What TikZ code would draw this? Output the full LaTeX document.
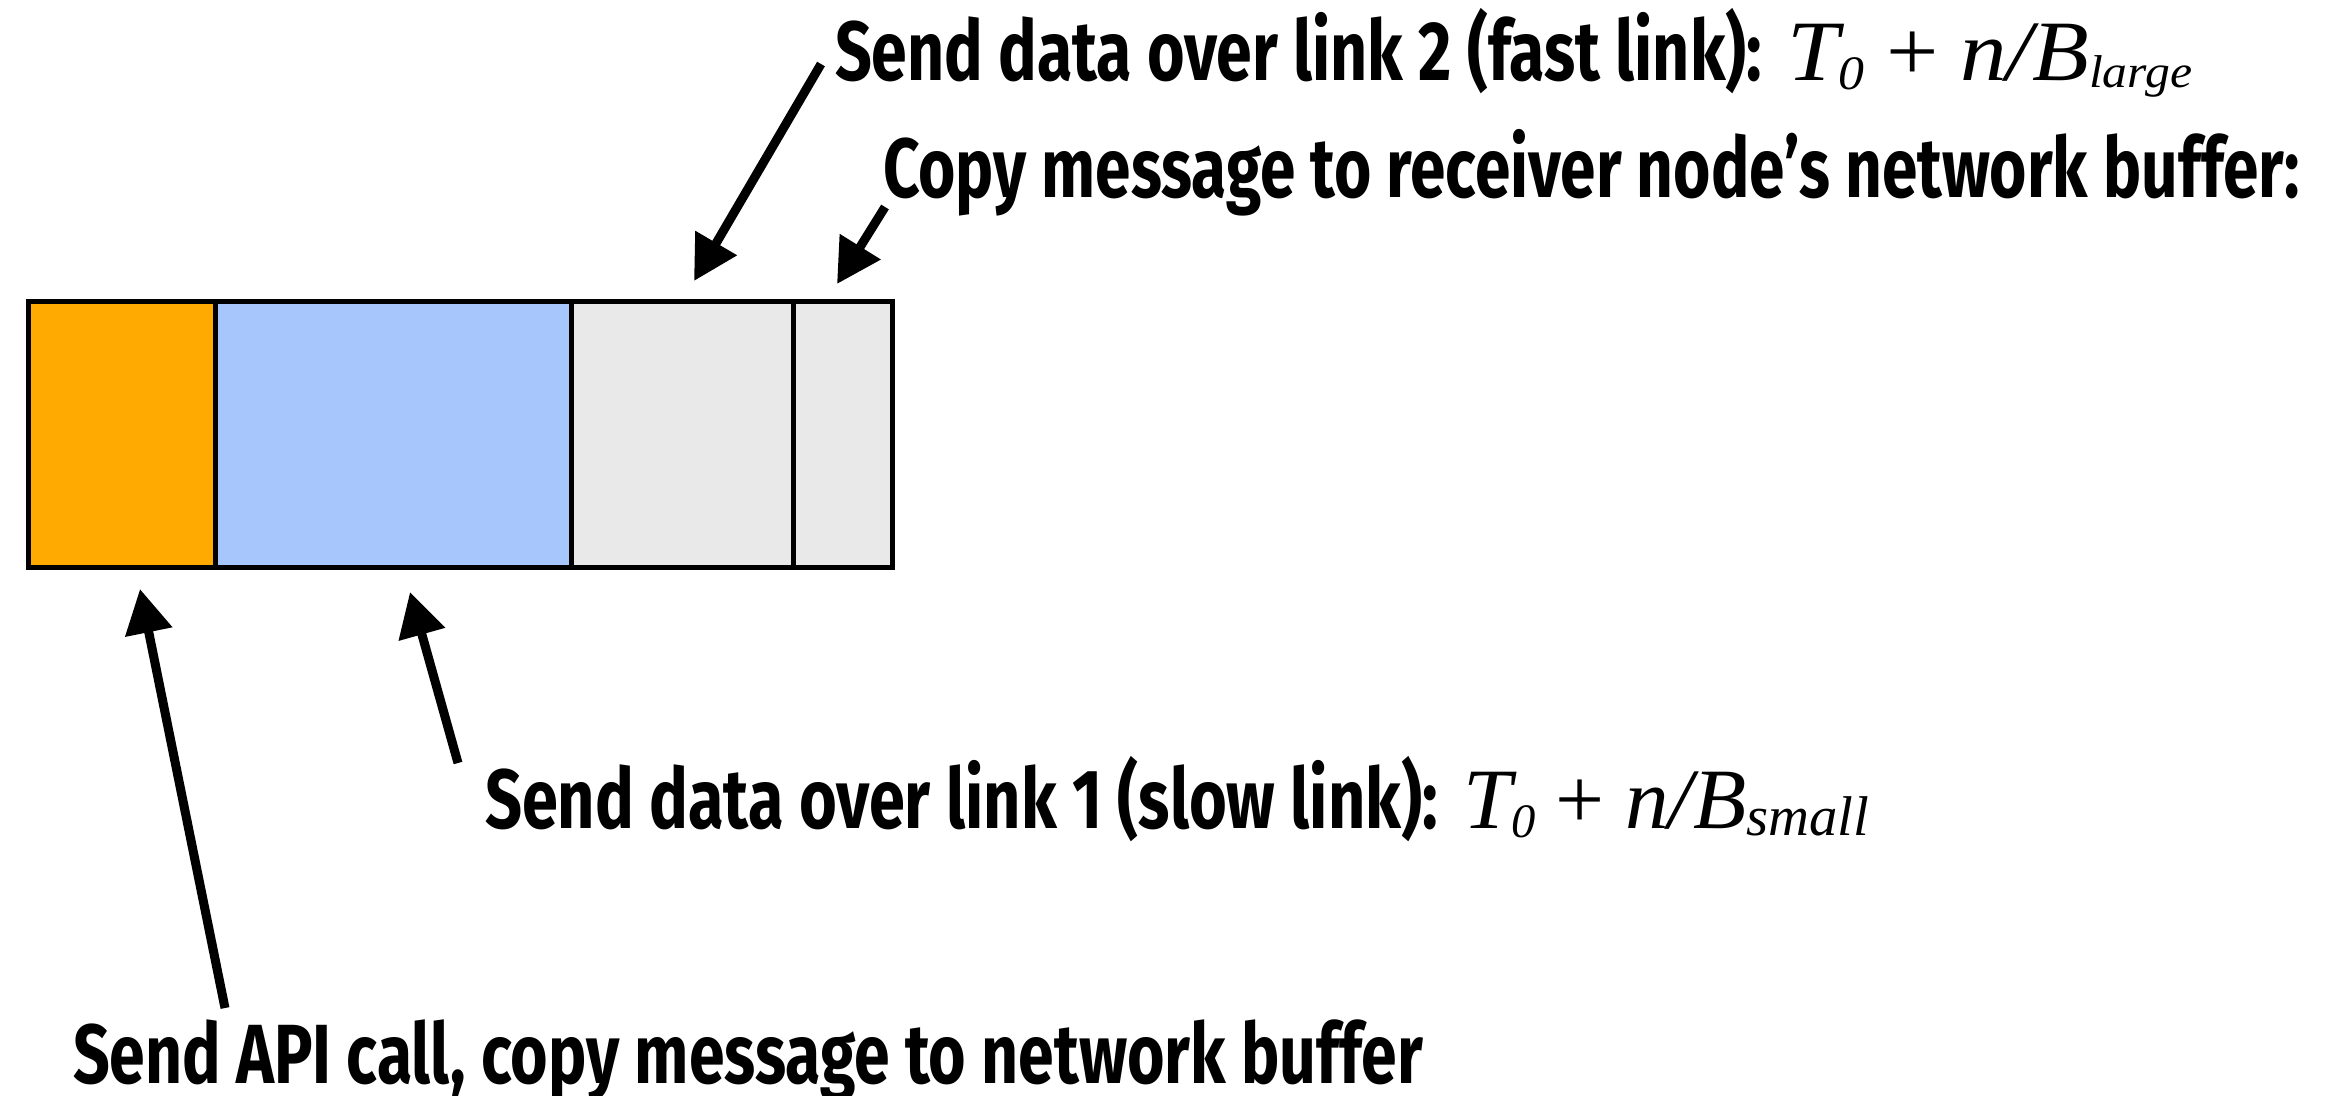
\documentclass[tikz,border=0pt]{standalone}
\usepackage{graphicx}
\usepackage{fontspec}
\setmainfont{Fira Sans}
\newfontfamily\tms{Liberation Serif}
\usetikzlibrary{arrows.meta}
\definecolor{segorange}{HTML}{FFAA00}
\definecolor{segblue}{HTML}{A7C6FB}
\definecolor{seggray}{HTML}{E9E9E9}
\newcommand{\boldlbl}[2]{\resizebox{#1pt}{\height}{\fontsize{84}{90}\selectfont\bfseries #2}}
\newcommand{\fmla}[3]{\resizebox{#1pt}{\height}{\tms\itshape\fontsize{86}{90}\selectfont T\raisebox{-9pt}{\fontsize{48}{50}\selectfont 0}\hspace{20pt}{\upshape +}\hspace{20pt}n/B\raisebox{-7pt}{\fontsize{#3}{50}\selectfont #2}}}
\tikzset{
  seg/.style={draw=black, line width=5pt, minimum height=266pt, inner sep=0pt, outer sep=0pt, anchor=north west},
  lbl/.style={anchor=base west, inner sep=0pt, outer sep=0pt},
  ptr/.style={-{Triangle[length=44pt,width=46pt]}, line width=9pt}
}
\begin{document}
\begin{tikzpicture}[x=1pt,y=-1pt]
\path[use as bounding box] (0,0) rectangle (2328,1095);
% segments
\node[seg, fill=segorange, minimum width=186.5pt] (s1) at (28.5,301.5) {};
\node[seg, fill=segblue, minimum width=356pt] (s2) at (s1.north east) {};
\node[seg, fill=seggray, minimum width=222pt] (s3) at (s2.north east) {};
\node[seg, fill=seggray, minimum width=99.5pt] (s4) at (s3.north east) {};
% labels
\node[lbl] (fastlbl) at (835,80) {\boldlbl{927}{Send data over link 2 (fast link):}};
\node[lbl] (fastf) at (1787,80) {\fmla{405}{large}{46}};
\node[lbl] (copylbl) at (883,197) {\boldlbl{1417}{Copy message to receiver node’s network buffer:}};
\node[lbl] (slowlbl) at (485,828) {\boldlbl{953}{Send data over link 1 (slow link):}};
\node[lbl] (slowf) at (1463,828) {\fmla{406}{small}{56}};
\node[lbl] (apilbl) at (73,1083) {\boldlbl{1350}{Send API call, copy message to network buffer}};
% arrow ends
\coordinate (a1s) at (225,1008); \coordinate (a1e) at (140,589);
\coordinate (a2s) at (458,763); \coordinate (a2e) at (410,592);
\coordinate (a3s) at (821,64);  \coordinate (a3e) at (694,281);
\coordinate (a4s) at (885,207); \coordinate (a4e) at (837,284);
\draw[ptr] (a1s) -- (a1e);
\draw[ptr] (a2s) -- (a2e);
\draw[ptr] (a3s) -- (a3e);
\draw[ptr] (a4s) -- (a4e);
\end{tikzpicture}
\end{document}
